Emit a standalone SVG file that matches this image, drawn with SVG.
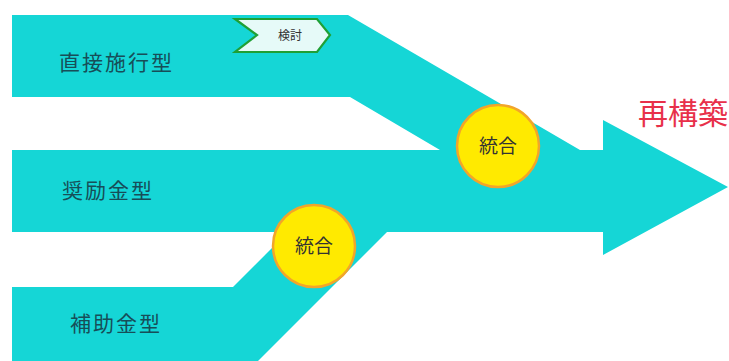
<svg xmlns="http://www.w3.org/2000/svg" width="729" height="361" viewBox="0 0 729 361">
<style>
.band{fill:#15D6D6;}
.lbl{font-family:"Noto Sans CJK JP","Noto Sans",sans-serif;font-size:21px;fill:#174E58;letter-spacing:2px;}
.circ{fill:#FFEA00;stroke:#F2A52A;stroke-width:2.5;}
.ct{font-family:"Noto Sans CJK JP","Noto Sans",sans-serif;font-size:19px;fill:#333;text-anchor:middle;}
</style>
<rect width="729" height="361" fill="#FFFFFF"/>
<g id="flows">
<polygon class="band" points="12,15 348,15 580,150 440,150 350,97 12,97"/>
<polygon class="band" points="12,150 603,150 603,120 728,187 603,255 603,232 12,232"/>
<polygon class="band" points="12,287 233,287 288,232 387,232 258,361 12,361"/>
</g>
<g id="node-direct"><text class="lbl" x="59" y="70">直接施行型</text></g>
<g id="node-incentive"><text class="lbl" x="62" y="198">奨励金型</text></g>
<g id="node-subsidy"><text class="lbl" x="70" y="331">補助金型</text></g>
<g id="node-review">
<polygon points="235,19 317,19 330,35 317,52 235,52 257,35" fill="#E6FAF8" stroke="#1FA035" stroke-width="2.2" stroke-linejoin="miter"/>
<text x="290" y="40" font-family="Noto Sans CJK JP,sans-serif" font-size="12" fill="#333" text-anchor="middle">検討</text>
</g>
<g id="node-merge1"><circle class="circ" cx="498" cy="146" r="41"/><text class="ct" x="498" y="153">統合</text></g>
<g id="node-merge2"><circle class="circ" cx="314" cy="246" r="41"/><text class="ct" x="314" y="253">統合</text></g>
<g id="node-rebuild"><text x="638" y="124" font-family="Noto Sans CJK JP,sans-serif" font-size="30" fill="#E8304A">再構築</text></g>
</svg>
